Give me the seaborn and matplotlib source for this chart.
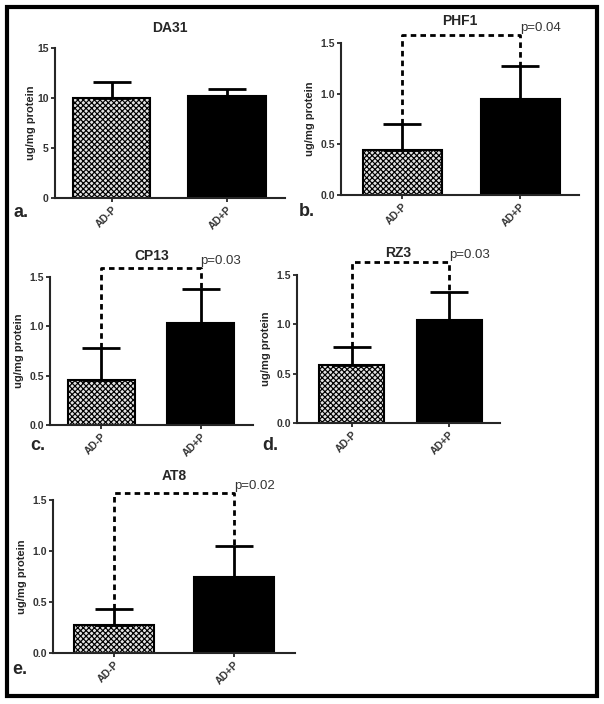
import matplotlib
matplotlib.use("Agg")
import matplotlib.pyplot as plt
import seaborn as sns
import pandas as pd
from matplotlib.patches import Rectangle

# values (means and upper SEM caps)
groups = ["AD-P", "AD+P"]
panels = ["DA31", "PHF1", "CP13", "RZ3", "AT8"]
letters = ["a.", "b.", "c.", "d.", "e."]
means_da31 = [10.0, 10.2]
caps_da31 = [11.6, 10.9]
means_phf1 = [0.44, 0.95]
caps_phf1 = [0.70, 1.27]
means_cp13 = [0.46, 1.03]
caps_cp13 = [0.78, 1.38]
means_rz3 = [0.59, 1.04]
caps_rz3 = [0.77, 1.33]
means_at8 = [0.27, 0.75]
caps_at8 = [0.43, 1.05]
p_values = [None, "p=0.04", "p=0.03", "p=0.03", "p=0.02"]
bracket_y = [None, 1.58, 1.59, 1.63, 1.57]

sns.set_style("ticks")
plt.rcParams["font.family"] = ["Liberation Sans", "DejaVu Sans"]
plt.rcParams["hatch.color"] = "black"
plt.rcParams["hatch.linewidth"] = 0.85

W, H = 604, 704
fig = plt.figure(figsize=(W / 100, H / 100), dpi=100)


def px_axes(left, right, top, bottom):
    return fig.add_axes([left / W, 1 - bottom / H, (right - left) / W, (bottom - top) / H])


# pixel boxes: left, right, top, bottom, xlim, title pad (px)
layout = [
    (55, 285, 48, 198, (-0.49, 1.50), 16),
    (341, 579, 43, 195, (-0.52, 1.50), 18),
    (50, 253, 277, 425, (-0.52, 1.53), 17),
    (297, 500, 275, 423, (-0.56, 1.52), 18),
    (53, 295, 500, 653, (-0.51, 1.51), 20),
]
letter_pos = [(13, 213), (299, 212), (30, 445), (262, 445), (12, 670)]

all_means = [means_da31, means_phf1, means_cp13, means_rz3, means_at8]
all_caps = [caps_da31, caps_phf1, caps_cp13, caps_rz3, caps_at8]

for i, name in enumerate(panels):
    left, right, top, bottom, xlim, tpad = layout[i]
    ax = px_axes(left, right, top, bottom)
    df = pd.DataFrame({"group": groups, "value": all_means[i]})
    sns.barplot(
        data=df, x="group", y="value", hue="group",
        palette=["white", "black"], legend=False, width=0.67,
        edgecolor="black", linewidth=1.5, ax=ax, zorder=2,
    )
    ax.patches[0].set_hatch("xxxxxx")
    ax.patches[0].set_facecolor("#e2e2e2")
    sem = [c - m for c, m in zip(all_caps[i], all_means[i])]
    ax.errorbar([0, 1], all_means[i], yerr=[[0, 0], sem], fmt="none",
                ecolor="black", elinewidth=2, capsize=14, capthick=2, zorder=3)

    if i == 0:
        ax.set_ylim(0, 15)
        ax.set_yticks([0, 5, 10, 15])
    else:
        ax.set_ylim(0, 1.5)
        ax.set_yticks([0, 0.5, 1.0, 1.5])
        ax.set_yticklabels(["0.0", "0.5", "1.0", "1.5"])
        by = bracket_y[i]
        c0, c1 = all_caps[i]
        ax.plot([0, 0, 1, 1], [c0, by, by, c1], color="black", lw=2,
                linestyle=(0, (2, 1.5)), clip_on=False, zorder=4)
        ax.text(1.0, by + 0.01, p_values[i], fontsize=9.5, color="#333333",
                ha="left", va="bottom")
    ax.set_xlim(*xlim)

    sns.despine(ax=ax)
    for s in ["left", "bottom"]:
        ax.spines[s].set_linewidth(1.5)
    ax.tick_params(axis="both", length=3, width=1.3, labelsize=7.5, pad=1.5)
    for lab in ax.get_yticklabels():
        lab.set_fontweight("bold")
        lab.set_color("#333333")
    ax.set_xticks([0, 1])
    ax.set_xticklabels(groups, rotation=45, ha="right", rotation_mode="anchor",
                       fontweight="bold", color="#333333")
    ax.set_xlabel("")
    ax.set_ylabel("ug/mg protein", fontsize=8, fontweight="bold",
                  labelpad=1 if i == 0 else 4)
    ax.set_title(name, fontsize=10, fontweight="bold", pad=tpad * 0.72)

    lx, ly = letter_pos[i]
    fig.text(lx / W, 1 - ly / H, letters[i], fontsize=13, fontweight="bold",
             ha="left", va="center")

# outer border
fig.patches.append(Rectangle((7 / W, 1 - 696 / H), 590 / W, 689 / H,
                             transform=fig.transFigure, fill=False,
                             edgecolor="black", linewidth=3))

fig.savefig("out.png", dpi=100)
